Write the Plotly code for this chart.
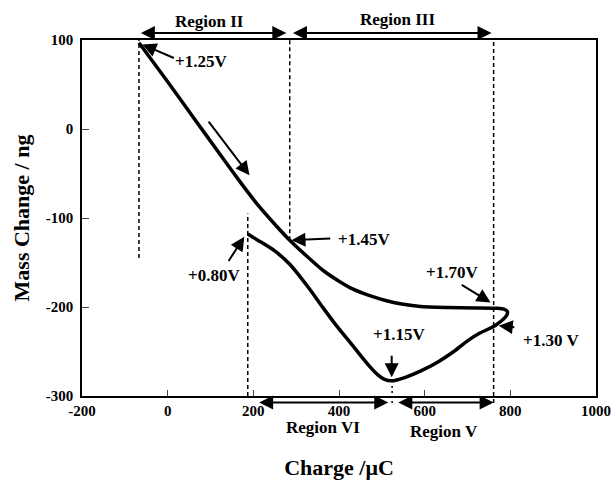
import plotly.graph_objects as go

# ---- data ----
charge = [-67, 0, 60, 120, 170, 210, 250, 285, 325, 363, 400, 433, 470, 511, 550, 590,
          650, 720, 770, 785, 793, 792, 783, 770, 761, 730, 700, 668, 630, 590,
          555, 535, 523, 505, 490, 472, 433, 394, 363, 330, 285, 250, 214, 200, 187]
mass = [97, 53, 13, -27, -60, -85, -107, -125, -143, -159, -171, -180, -187, -193, -197, -199.5,
        -200.5, -201, -201.5, -202.5, -205, -209, -214, -219, -222, -229, -238, -250, -262, -272,
        -279, -282, -283, -281, -276, -267, -244, -221, -201, -179, -152, -137, -126, -122, -118]

x_ticks = [-200, 0, 200, 400, 600, 800, 1000]
x_labels = ["-200", "0", "200", "400", "600", "800", "1000"]
y_ticks = [-300, -200, -100, 0, 100]
y_labels = ["-300", "-200", "-100", "0", "100"]

# vertical guide lines: (charge, mass_top, mass_bottom, dash)
guides = [(-67, 100, -145, "4px,3px"), (285, 100, -125, "4px,3px"),
          (187, -95, -300, "4px,3px")]
# guides that run below the axis (bottom given as paper fraction)
guides_low = [(761, 100, -0.02, "4px,3px"), (524, -285, -0.02, "2px,3px")]

# region double arrows: (label, start, end, paper_level, label_x, label_paper_y)
regions = [("Region II", -66, 277, 1.02, 98, 1.052), ("Region III", 289, 756, 1.02, 537, 1.057),
           ("Region VI", 210, 515, -0.018, 363, -0.088), ("Region V", 535, 761, -0.018, 644, -0.099)]

# voltage labels: (text, text_x, text_y, tail_x, tail_y, head_x, head_y)
volts = [("+1.25V", 78, 76, 18, 79, -59, 95), ("+1.45V", 459, -124, 383, -123, 289, -125),
         ("+0.80V", 107, -165, 140, -150, 179, -121), ("+1.70V", 664, -161, 683, -174, 754, -195),
         ("+1.30 V", 894, -238, 813, -223, 773, -221), ("+1.15V", 539, -231, 523, -253, 523, -279)]

FONT = "Liberation Serif, Times New Roman, serif"
BOLD = lambda s: dict(family=FONT, size=s, color="black", weight="bold")

fig = go.Figure()
fig.add_trace(go.Scatter(x=charge, y=mass, mode="lines",
                         line=dict(color="black", width=3.5, shape="spline", smoothing=0.6),
                         hoverinfo="skip", showlegend=False))

for cx, top, bot, dash in guides:
    fig.add_shape(type="line", x0=cx, x1=cx, y0=bot, y1=top, xref="x", yref="y",
                  line=dict(color="black", width=1.5, dash=dash))
for cx, top, bot, dash in guides_low:
    fig.add_shape(type="line", x0=cx, x1=cx, y0=bot, y1=(top + 300) / 400, xref="x", yref="paper",
                  line=dict(color="black", width=1.5, dash=dash))

ann = []
for label, a, b, lvl, lx, ly in regions:
    ann.append(dict(x=b, y=lvl, ax=a, ay=0, xref="x", yref="paper", axref="x", ayref="pixel",
                    text="", showarrow=True, arrowhead=2, startarrowhead=2, arrowside="end+start",
                    arrowsize=1.4, startarrowsize=1.4, arrowwidth=2, arrowcolor="black"))
    ann.append(dict(x=lx, y=ly, xref="x", yref="paper", text=label, showarrow=False,
                    xanchor="center", yanchor="middle", font=BOLD(17)))

for t, tx, ty, ax_, ay_, hx, hy in volts:
    ann.append(dict(x=hx, y=hy, ax=ax_, ay=ay_, xref="x", yref="y", axref="x", ayref="y",
                    text="", showarrow=True, arrowhead=2, arrowsize=1.4, arrowwidth=2,
                    arrowcolor="black"))
    ann.append(dict(x=tx, y=ty, xref="x", yref="y", text=t, showarrow=False,
                    xanchor="center", yanchor="middle", font=BOLD(17)))

# direction arrow along the upper branch
ann.append(dict(x=191, y=-52, ax=93, ay=10, xref="x", yref="y", axref="x", ayref="y",
                text="", showarrow=True, arrowhead=2, arrowsize=1.4, arrowwidth=2,
                arrowcolor="black"))

fig.update_layout(
    width=611, height=481,
    margin=dict(l=82, r=15, t=40, b=85),
    paper_bgcolor="white", plot_bgcolor="white",
    font=dict(family=FONT, color="black"),
    annotations=ann,
    xaxis=dict(range=[-200, 1000], tickvals=x_ticks, ticktext=x_labels, ticks="inside", ticklen=6,
               showline=True, linecolor="black", linewidth=1.5, mirror=True,
               showgrid=False, zeroline=False, tickfont=BOLD(15), automargin=False,
               title=dict(text="Charge /μC", standoff=42, font=BOLD(22))),
    yaxis=dict(range=[-300, 100], tickvals=y_ticks, ticktext=y_labels, ticks="inside", ticklen=7,
               showline=True, linecolor="black", linewidth=1.5, mirror=True,
               showgrid=False, zeroline=False, tickfont=BOLD(15), ticklabelstandoff=4,
               automargin=False,
               title=dict(text="Mass Change / ng", standoff=10, font=BOLD(22))),
)

fig.write_html("out.html", post_script="document.body.style.margin='0';",
               config={"displayModeBar": False})
